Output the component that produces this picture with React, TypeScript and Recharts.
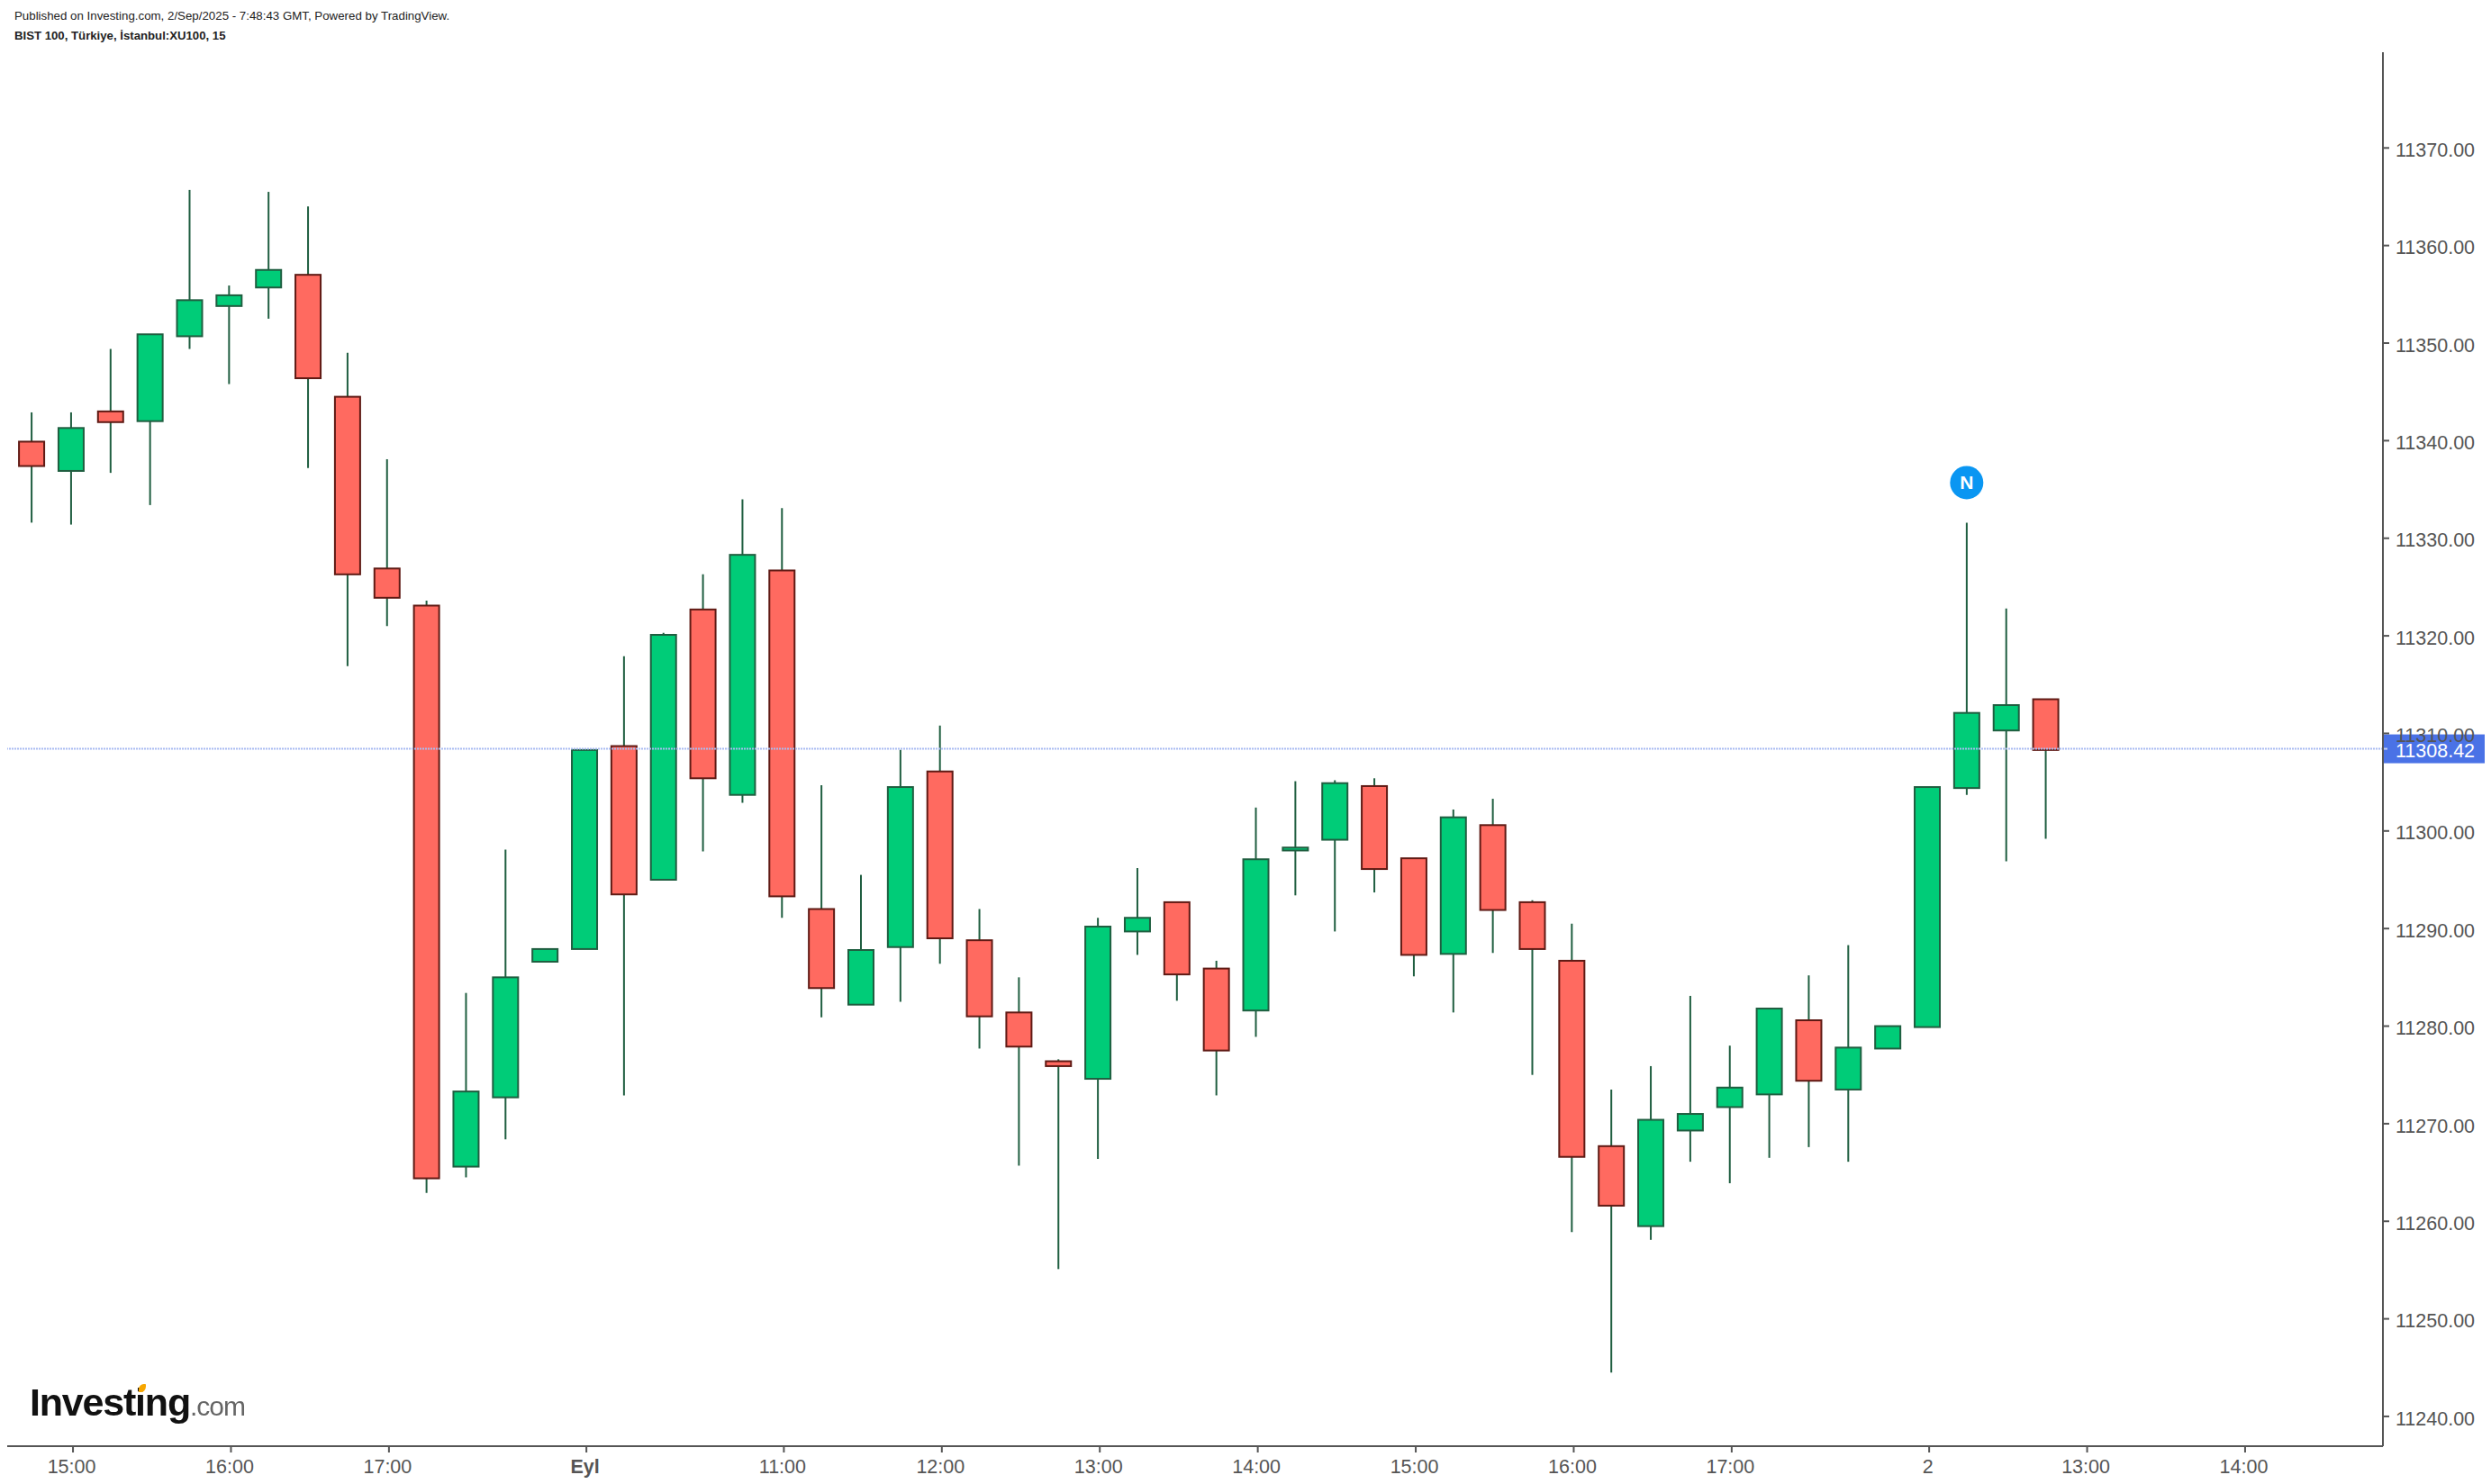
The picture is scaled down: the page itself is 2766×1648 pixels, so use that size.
import { ComposedChart, Bar, XAxis, YAxis, ReferenceLine, ReferenceDot } from "recharts";

const opens = [11339.9, 11336.9, 11343, 11342, 11350.7, 11353.8, 11355.7, 11357, 11344.5, 11326.9, 11323.1, 11265.6, 11272.7, 11286.6, 11287.9, 11308.7, 11295, 11322.7, 11303.7, 11326.7, 11292, 11282.2, 11288.1, 11306.1, 11288.8, 11281.4, 11276.4, 11274.6, 11289.7, 11292.7, 11285.9, 11281.6, 11298, 11299.1, 11304.6, 11297.2, 11287.4, 11300.6, 11292.7, 11286.7, 11267.7, 11259.5, 11269.3, 11271.7, 11273, 11280.6, 11273.5, 11277.7, 11279.9, 11304.4, 11310.3, 11313.5];
const highs = [11342.9, 11342.9, 11349.4, 11350.9, 11365.7, 11355.9, 11365.5, 11364, 11349, 11338.1, 11323.6, 11283.4, 11298.1, 11287.9, 11308.3, 11317.9, 11320.3, 11326.3, 11334, 11333.1, 11304.7, 11295.5, 11308.3, 11310.8, 11292, 11285, 11276.6, 11291.1, 11296.2, 11292.7, 11286.7, 11302.4, 11305.1, 11305.2, 11305.4, 11297.2, 11302.2, 11303.3, 11292.9, 11290.5, 11273.5, 11275.9, 11283.1, 11278, 11281.8, 11285.2, 11288.3, 11280, 11304.5, 11331.6, 11322.8, 11313.5];
const lows = [11331.6, 11331.4, 11336.7, 11333.4, 11349.4, 11345.8, 11352.5, 11337.2, 11316.9, 11321, 11262.9, 11264.5, 11268.4, 11286.6, 11287.9, 11272.9, 11295, 11297.9, 11302.9, 11291.1, 11280.9, 11282.2, 11282.5, 11286.4, 11277.7, 11265.7, 11255.1, 11266.4, 11287.3, 11282.6, 11272.9, 11278.9, 11293.4, 11289.7, 11293.7, 11285.1, 11281.4, 11287.5, 11275, 11258.9, 11244.5, 11258.1, 11266.1, 11263.9, 11266.5, 11267.6, 11266.1, 11277.7, 11279.9, 11303.7, 11296.9, 11299.2];
const closes = [11337.4, 11341.3, 11341.9, 11350.9, 11354.4, 11354.9, 11357.5, 11346.4, 11326.3, 11323.9, 11264.4, 11273.3, 11285, 11287.9, 11308.3, 11293.5, 11320.1, 11305.4, 11328.3, 11293.3, 11283.9, 11287.8, 11304.5, 11289, 11281, 11277.9, 11275.9, 11290.2, 11291.1, 11285.3, 11277.5, 11297.1, 11298.3, 11304.9, 11296.1, 11287.3, 11301.4, 11291.9, 11287.9, 11266.6, 11261.6, 11270.4, 11271, 11273.7, 11281.8, 11274.4, 11277.8, 11280, 11304.5, 11312.1, 11312.9, 11308.3];

const xTicks = [1.05, 5.05, 9.05, 14.05, 19.05, 23.05, 27.05, 31.05, 35.05, 39.05, 43.05, 48.05, 52.05, 56.05];
const xLabels = ["15:00", "16:00", "17:00", "Eyl", "11:00", "12:00", "13:00", "14:00", "15:00", "16:00", "17:00", "2", "13:00", "14:00"];
const yTicks = [11240, 11250, 11260, 11270, 11280, 11290, 11300, 11310, 11320, 11330, 11340, 11350, 11360, 11370];
const lastPrice = 11308.42;
const newsIndex = 49;
const newsValue = 11335.7;

const candles = opens.map((o, i) => ({
  idx: i, open: o, high: highs[i], low: lows[i], close: closes[i], range: [lows[i], highs[i]],
}));

const FONT = "'Liberation Sans', Arial, sans-serif";
const AXIS = "#555555";
const WICK = "#1f5e40";

function Candle({ x, y, width, height, payload }: any) {
  const { open, close, high, low } = payload;
  const k = height / (high - low);
  const cx = x + width / 2;
  const up = close >= open;
  const top = y + (high - Math.max(open, close)) * k;
  const h = Math.abs(close - open) * k;
  return (
    <g>
      <line x1={cx} x2={cx} y1={y} y2={y + height} stroke={WICK} strokeWidth={2} />
      <rect x={cx - 14} y={top} width={28} height={h} fill={up ? "#00cc78" : "#ff6a60"}
            stroke={up ? "#1f5e40" : "#5f1a14"} strokeWidth={2} />
    </g>
  );
}

function XTick({ x, y, payload }: any) {
  const label = xLabels[xTicks.indexOf(payload.value)];
  return (
    <text x={x - 1.5} y={y + 21} textAnchor="middle" fontFamily={FONT} fontSize={21.5} fill={AXIS}
          fontWeight={label === "Eyl" ? 700 : 400}>{label}</text>
  );
}

function PriceTag({ viewBox }: any) {
  const y = viewBox.y;
  return (
    <g>
      <rect x={2645} y={y - 16} width={114} height={32} fill="#4a72e6" />
      <line x1={2645} x2={2651} y1={y} y2={y} stroke="#c4d0f4" strokeWidth={2} />
      <text x={2660} y={y + 9} fontFamily={FONT} fontSize={21.5} fill="#ffffff">{lastPrice.toFixed(2)}</text>
    </g>
  );
}

function NewsMark({ cx, cy }: any) {
  return (
    <g>
      <circle cx={cx} cy={cy} r={18.5} fill="#0a96f2" />
      <text x={cx} y={cy + 7.5} textAnchor="middle" fontFamily={FONT} fontSize={21} fontWeight={700} fill="#ffffff">N</text>
    </g>
  );
}

export default function App() {
  return (
    <div style={{ position: "fixed", left: 0, top: 0, width: 2766, height: 1648, background: "#fff", overflow: "hidden" }}>
      <ComposedChart width={2766} height={1648} data={candles} margin={{ top: 58, right: 0, bottom: 0, left: 8 }}>
        <XAxis dataKey="idx" type="number" domain={[-0.616, 59.54]} ticks={xTicks} interval={0} allowDataOverflow
               height={42} stroke={AXIS} strokeWidth={2} tickSize={7} tick={<XTick />} />
        <YAxis orientation="right" domain={[11236.95, 11379.81]} ticks={yTicks} interval={0} allowDataOverflow
               width={120} stroke={AXIS} strokeWidth={2} tickSize={7} tickMargin={7}
               tickFormatter={(v: number) => v.toFixed(2)}
               tick={{ fontFamily: FONT, fontSize: 21.5, fill: AXIS, dy: 2 }} />
        <ReferenceLine y={lastPrice} stroke="#a9bcf2" strokeWidth={2} strokeDasharray="2 1" />
        <Bar dataKey="range" barSize={30} shape={<Candle />} isAnimationActive={false} />
        <ReferenceDot x={newsIndex} y={newsValue} shape={<NewsMark />} />
        <ReferenceLine y={lastPrice} stroke="none" label={<PriceTag />} />
      </ComposedChart>
      <div style={{ position: "absolute", left: 16, top: 10, fontFamily: FONT, fontSize: 13.3, color: "#222", whiteSpace: "nowrap" }}>
        Published on Investing.com, 2/Sep/2025 - 7:48:43 GMT, Powered by TradingView.
      </div>
      <div style={{ position: "absolute", left: 16, top: 32, fontFamily: FONT, fontSize: 13.2, fontWeight: 700, color: "#222", whiteSpace: "nowrap" }}>
        BIST 100, Türkiye, İstanbul:XU100, 15
      </div>
      <div style={{ position: "absolute", left: 33, top: 1533, fontFamily: FONT, fontSize: 43, fontWeight: 700, letterSpacing: -1.2, color: "#111", whiteSpace: "nowrap", filter: "blur(0.5px)" }}>
        Investing<span style={{ fontSize: 30, fontWeight: 400, letterSpacing: -1, color: "#666" }}>.com</span>
      </div>
      <div style={{ position: "absolute", left: 154, top: 1537, width: 8, height: 9, borderRadius: "70% 10%", background: "#f7a600" }} />
    </div>
  );
}
